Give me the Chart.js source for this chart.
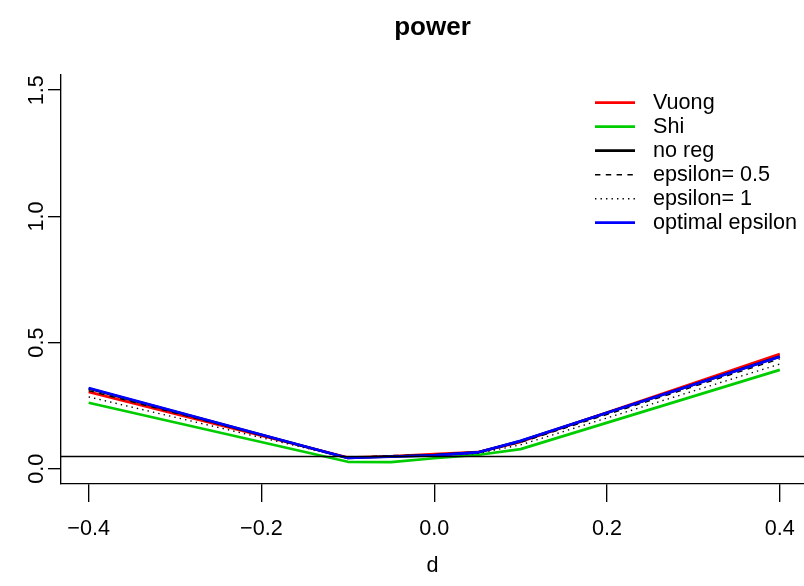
<!DOCTYPE html>
<html>
<head>
<meta charset="utf-8">
<title>power</title>
<script src="https://cdn.jsdelivr.net/npm/chart.js@4.4.1/dist/chart.umd.min.js"></script>
<style>
  html, body { margin: 0; padding: 0; background: #fff; overflow: hidden; }
  #powerChart { display: block; }
</style>
</head>
<body>
<canvas id="powerChart" width="804" height="586"></canvas>
<script>
// Values of d used in the simulation
const dValues = [-0.4, -0.1, -0.05, 0, 0.05, 0.1, 0.4];

// Power of each test at those d values
const vuong = [0.305, 0.045, 0.05, 0.058, 0.066, 0.107, 0.455];
const shi = [0.262, 0.028, 0.027, 0.042, 0.055, 0.078, 0.392];
const noReg = [0.318, 0.043, 0.049, 0.054, 0.065, 0.11, 0.445];
const eps05 = [0.31, 0.044, 0.053, 0.055, 0.064, 0.105, 0.436];
const eps1 = [0.285, 0.043, 0.051, 0.053, 0.061, 0.095, 0.415];
const optimal = [0.32, 0.043, 0.048, 0.053, 0.065, 0.111, 0.444];

// Nominal level (horizontal reference line)
const nominalLevel = 0.05;

// Tick labels
const xTicks = [-0.4, -0.2, 0, 0.2, 0.4];
const xTickLabels = ["\u22120.4", "\u22120.2", "0.0", "0.2", "0.4"];
const yTicks = [0, 0.5, 1, 1.5];
const yTickLabels = ["0.0", "0.5", "1.0", "1.5"];

const FONT = "'Liberation Sans', Arial, Helvetica, sans-serif";
Chart.defaults.font.family = FONT;
Chart.defaults.color = "#000";

const toPoints = (ys) => dValues.map((d, i) => ({ x: d, y: ys[i] }));

// R draws lines in this order, last one on top
const series = [
  { label: "Vuong", values: vuong, color: "#FF0000", width: 2.7, dash: [] },
  { label: "Shi", values: shi, color: "#00CD00", width: 2.7, dash: [] },
  { label: "no reg", values: noReg, color: "#000000", width: 2.7, dash: [] },
  { label: "epsilon= 0.5", values: eps05, color: "#000000", width: 1.35, dash: [5.4, 5.4] },
  { label: "epsilon= 1", values: eps1, color: "#000000", width: 1.35, dash: [1.4, 4.1] },
  { label: "optimal epsilon", values: optimal, color: "#0000FF", width: 2.7, dash: [] },
];

// Horizontal line at the nominal level
const ablinePlugin = {
  id: "abline",
  afterDatasetsDraw(chart) {
    const { ctx, chartArea, scales } = chart;
    const y = Math.round(scales.y.getPixelForValue(nominalLevel)) + 0.5;
    ctx.save();
    ctx.strokeStyle = "#000";
    ctx.lineWidth = 1.35;
    ctx.beginPath();
    ctx.moveTo(chartArea.left, y);
    ctx.lineTo(chartArea.right, y);
    ctx.stroke();
    ctx.restore();
  },
};

// Legend in the top right corner, no box
const legendPlugin = {
  id: "rLegend",
  afterDraw(chart) {
    const { ctx, chartArea } = chart;
    chart.data.datasets.forEach((ds, i) => {
      const y = chartArea.top + 27.7 + i * 24;
      ctx.save();
      ctx.strokeStyle = ds.borderColor;
      ctx.lineWidth = ds.borderWidth;
      ctx.setLineDash(ds.borderDash);
      ctx.beginPath();
      ctx.moveTo(595, y);
      ctx.lineTo(635, y);
      ctx.stroke();
      ctx.setLineDash([]);
      ctx.fillStyle = "#000";
      ctx.font = "21.6px " + FONT;
      ctx.textBaseline = "middle";
      ctx.fillText(ds.label, 653, y);
      ctx.restore();
    });
  },
};

const ctx = document.getElementById("powerChart").getContext("2d");
const chart = new Chart(ctx, {
  type: "line",
  data: {
    datasets: series.map((s, i) => ({
      label: s.label,
      data: toPoints(s.values),
      borderColor: s.color,
      borderWidth: s.width,
      borderDash: s.dash,
      borderJoinStyle: "round",
      pointRadius: 0,
      tension: 0,
      fill: false,
      order: series.length - i,
    })),
  },
  options: {
    responsive: false,
    animation: false,
    devicePixelRatio: 1,
    events: [],
    layout: { padding: 0 },
    plugins: {
      legend: { display: false },
      tooltip: { enabled: false },
      title: {
        display: true,
        text: "power",
        fullSize: false,
        color: "#000",
        font: { size: 26, weight: "bold", lineHeight: 1.2 },
        padding: { top: 12, bottom: 31.8 },
      },
    },
    scales: {
      x: {
        type: "linear",
        min: -0.432,
        max: 0.428,
        afterFit(scale) {
          scale.height = 102;
          // plot region runs to the right edge, labels may overflow
          scale.paddingLeft = 0;
          scale.paddingRight = 0;
        },
        afterBuildTicks(scale) { scale.ticks = xTicks.map((v) => ({ value: v })); },
        grid: { drawOnChartArea: false, drawTicks: true, tickLength: 18, color: "#000", lineWidth: 1.35 },
        border: { display: true, color: "#000", width: 1.35 },
        ticks: {
          padding: 14,
          maxRotation: 0,
          font: { size: 21.6 },
          callback: (v, i) => xTickLabels[i],
        },
        title: { display: true, text: "d", font: { size: 21.6 }, padding: { top: 0, bottom: 7 } },
      },
      y: {
        type: "linear",
        min: -0.06,
        max: 1.56,
        afterFit(scale) {
          scale.width = 61;
          scale.paddingTop = 0;
          scale.paddingBottom = 0;
        },
        afterBuildTicks(scale) { scale.ticks = yTicks.map((v) => ({ value: v })); },
        grid: { drawOnChartArea: false, drawTicks: true, tickLength: 13, color: "#000", lineWidth: 1.35 },
        border: { display: true, color: "#000", width: 1.35 },
        ticks: {
          padding: -4,
          minRotation: 90,
          maxRotation: 90,
          crossAlign: "center",
          font: { size: 21.6 },
          callback: (v, i) => yTickLabels[i],
        },
      },
    },
  },
  plugins: [ablinePlugin, legendPlugin],
});
</script>
</body>
</html>
